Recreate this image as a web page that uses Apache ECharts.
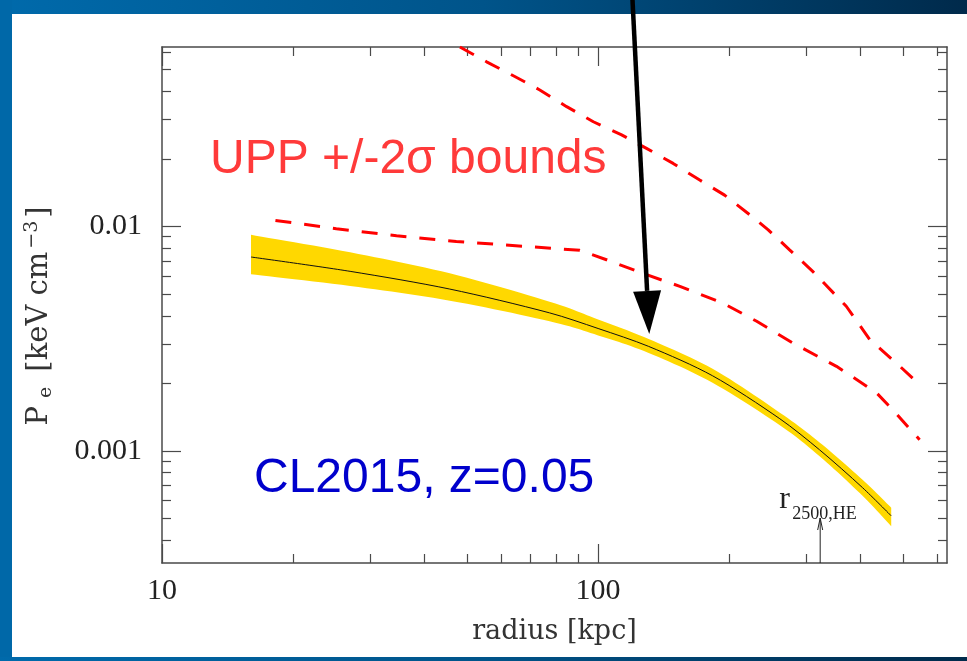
<!DOCTYPE html>
<html><head><meta charset="utf-8">
<script src="https://cdn.jsdelivr.net/npm/echarts@6/dist/echarts.min.js"></script>
<style>html,body{margin:0;padding:0;background:#fff;}#c{width:967px;height:661px;}</style>
</head><body><div id="c"></div>
<script>
// ---- data ----
const radiusBand    = [16, 27, 45.7, 77.4, 100, 130.6, 183, 261, 322, 404, 470];
const pressureModel = [0.00731, 0.00631, 0.00526, 0.00412, 0.00351, 0.00292, 0.00216, 0.00139, 0.00101, 0.000685, 0.000513];
const bandUpper     = [0.00918, 0.00767, 0.00618, 0.00462, 0.00385, 0.00315, 0.00232, 0.00148, 0.00109, 0.000743, 0.000558];
const bandLower     = [0.00612, 0.00543, 0.00467, 0.00378, 0.00327, 0.00273, 0.00201, 0.00130, 0.000946, 0.000630, 0.000461];

const radiusUppHigh = [48.2, 55.5, 64.4, 73.5, 84.7, 97.5, 113.2, 129.1, 148.6, 171, 195, 222.8, 245.5, 274.8, 310.5, 370.7, 419.8, 492, 550.8];
const uppHigh       = [0.0631, 0.0542, 0.0466, 0.0406, 0.0342, 0.0293, 0.0256, 0.0223, 0.0191, 0.0161, 0.0138, 0.01127, 0.00966, 0.00787, 0.00631, 0.00441, 0.00313, 0.00238, 0.00194];

const radiusUppLow  = [18.2, 25.1, 34.5, 47.3, 60.5, 90.8, 104.5, 129, 154, 193, 231, 279, 352, 434, 473, 546];
const uppLow        = [0.01064, 0.00977, 0.00909, 0.00857, 0.00829, 0.00783, 0.00711, 0.00610, 0.00541, 0.00456, 0.00378, 0.00303, 0.00238, 0.00182, 0.00153, 0.00112];

const xMajorTicks = [10, 100];
const xTickLabels = ['10', '100'];
const xMinorTicks = [20, 30, 40, 50, 60, 70, 80, 90, 200, 300, 400, 500, 600];
const yMajorTicks = [0.001, 0.01];
const yTickLabels = ['0.001', '0.01'];
const yMinorTicks = [0.0004, 0.0005, 0.0006, 0.0007, 0.0008, 0.0009, 0.002, 0.003, 0.004, 0.005, 0.006, 0.007, 0.008, 0.009, 0.02, 0.03, 0.04, 0.05, 0.06];
const xMin = 10, xMax = Math.pow(10, 2.8);
const yMin = Math.pow(10, -3.5), yMax = Math.pow(10, -1.2);
const r2500 = 323;
const arrowTip = [131, 0.00332];

// ---- chart ----
const serif = '"Liberation Serif", "DejaVu Serif", serif';
const titleSerif = '"DejaVu Serif", serif';
const sans = '"Liberation Sans", Arial, sans-serif';
const lineCol = '#4a4a4a';
const chart = echarts.init(document.getElementById('c'));

function pick(v, vals, labels) {
  let best = 0, d = Infinity;
  vals.forEach((t, i) => { const dd = Math.abs(Math.log10(t) - Math.log10(v)); if (dd < d) { d = dd; best = i; } });
  return labels[best];
}
// Catmull-Rom smoothing of a pixel polyline (rendering only)
function smoothPts(pts) {
  const out = [pts[0]];
  for (let i = 0; i < pts.length - 1; i++) {
    const p0 = pts[i - 1] || pts[i], p1 = pts[i], p2 = pts[i + 1], p3 = pts[i + 2] || pts[i + 1];
    for (let k = 1; k <= 12; k++) {
      const t = k / 12, t2 = t * t, t3 = t2 * t;
      const f = (a, b, c, d) => 0.5 * ((2 * b) + (-a + c) * t + (2 * a - 5 * b + 4 * c - d) * t2 + (-a + 3 * b - 3 * c + d) * t3);
      out.push([f(p0[0], p1[0], p2[0], p3[0]), f(p0[1], p1[1], p2[1], p3[1])]);
    }
  }
  return out;
}
const gridBox = {left: 162, top: 47, right: 20, bottom: 98, containLabel: false};
function xAx(grid, pos, ticks, len, showLine, label) {
  return {
    type: 'log', logBase: 10, min: xMin, max: xMax, gridIndex: grid, position: pos,
    axisLine: {show: showLine, onZero: false, lineStyle: {color: lineCol, width: 1.5}},
    axisTick: {show: true, inside: true, length: len, customValues: ticks, lineStyle: {color: lineCol, width: 1.2}},
    axisLabel: label ? {show: true, customValues: xMajorTicks, formatter: v => pick(v, xMajorTicks, xTickLabels),
      margin: 13, color: '#222', fontFamily: serif, fontSize: 30} : {show: false},
    splitLine: {show: false}, minorTick: {show: false}, minorSplitLine: {show: false},
    name: label ? 'radius [kpc]' : '', nameLocation: 'middle', nameGap: 55,
    nameTextStyle: {fontFamily: titleSerif, fontSize: 27, color: '#333'}
  };
}
function yAx(grid, pos, ticks, len, showLine, label) {
  return {
    type: 'log', logBase: 10, min: yMin, max: yMax, gridIndex: grid, position: pos,
    axisLine: {show: showLine, onZero: false, lineStyle: {color: lineCol, width: 1.5}},
    axisTick: {show: true, inside: true, length: len, customValues: ticks, lineStyle: {color: lineCol, width: 1.2}},
    axisLabel: label ? {show: true, customValues: yMajorTicks, formatter: v => pick(v, yMajorTicks, yTickLabels),
      margin: 20, color: '#222', fontFamily: serif, fontSize: 30} : {show: false},
    splitLine: {show: false}, minorTick: {show: false}, minorSplitLine: {show: false},
    name: label ? '{a|P}{b|e}{a| [keV cm}{c|\u22123}{a|]}' : '', nameLocation: 'middle', nameGap: 106,
    nameTextStyle: {padding: [0, 22, 0, 0], rich: {
      a: {fontFamily: titleSerif, fontSize: 29, color: '#333'},
      b: {fontFamily: titleSerif, fontSize: 19, color: '#333', padding: [14, 6, 0, 8]},
      c: {fontFamily: titleSerif, fontSize: 19, color: '#333', padding: [0, 3, 14, 3]}
    }}
  };
}

const option = {
  animation: false,
  backgroundColor: '#fff',
  grid: [gridBox, gridBox, gridBox, gridBox],
  xAxis: [
    xAx(0, 'bottom', xMajorTicks, 19, true, true),
    xAx(1, 'bottom', xMinorTicks, 9, false, false),
    xAx(2, 'top', xMajorTicks, 19, true, false),
    xAx(3, 'top', xMinorTicks, 9, false, false)
  ],
  yAxis: [
    yAx(0, 'left', yMajorTicks, 19, true, true),
    yAx(1, 'left', yMinorTicks, 9, false, false),
    yAx(2, 'right', yMajorTicks, 19, true, false),
    yAx(3, 'right', yMinorTicks, 9, false, false)
  ],
  series: [
    {
      type: 'custom', xAxisIndex: 0, yAxisIndex: 0, z: 2,
      data: radiusBand.map((r, i) => [r, bandUpper[i], bandLower[i]]),
      encode: {x: 0, y: [1, 2]},
      renderItem: function (params, api) {
        if (params.dataIndex !== 0) return null;
        const up = radiusBand.map((r, i) => api.coord([r, bandUpper[i]]));
        const lo = radiusBand.map((r, i) => api.coord([r, bandLower[i]]));
        const pts = smoothPts(up).concat(smoothPts(lo).reverse());
        return {type: 'polygon', shape: {points: pts}, style: {fill: '#FFD800', stroke: null}};
      },
      silent: true
    },
    {
      type: 'line', xAxisIndex: 0, yAxisIndex: 0, z: 3, showSymbol: false, smooth: 0.3,
      data: radiusBand.map((r, i) => [r, pressureModel[i]]),
      lineStyle: {color: '#111', width: 1}
    },
    {
      type: 'line', xAxisIndex: 0, yAxisIndex: 0, z: 4, showSymbol: false, clip: true,
      data: radiusUppHigh.map((r, i) => [r, uppHigh[i]]),
      lineStyle: {color: '#f00', width: 3, type: [16, 13]}
    },
    {
      type: 'line', xAxisIndex: 0, yAxisIndex: 0, z: 4, showSymbol: false, clip: true,
      data: radiusUppLow.map((r, i) => [r, uppLow[i]]),
      lineStyle: {color: '#f00', width: 3, type: [16, 13]}
    }
  ]
};
chart.setOption(option);

// ---- annotations ----
const px = (d) => chart.convertToPixel({xAxisIndex: 0, yAxisIndex: 0}, d);
const tip = px(arrowTip);
const start = [632.5, 0];
const dx = tip[0] - start[0], dy = tip[1] - start[1];
const L = Math.sqrt(dx * dx + dy * dy), ux = dx / L, uy = dy / L;
const headLen = 43, headHalf = 14;
const base = [tip[0] - ux * headLen, tip[1] - uy * headLen];
const rx = px([r2500, yMin]);
const mkGrad = () => new echarts.graphic.LinearGradient(0, 0, 1, 0, [
  {offset: 0, color: '#006aab'}, {offset: 0.5, color: '#00548a'}, {offset: 1, color: '#002a4b'}]);

chart.setOption({
  graphic: [
    {type: 'rect', z: -10, shape: {x: 0, y: 0, width: 967, height: 14}, style: {fill: mkGrad()}, silent: true},
    {type: 'rect', z: -10, shape: {x: 0, y: 0, width: 12, height: 661}, style: {fill: '#0068a8'}, silent: true},
    {type: 'rect', z: -10, shape: {x: 0, y: 657, width: 967, height: 4}, style: {fill: mkGrad()}, silent: true},
    {type: 'text', z: 50, style: {text: 'UPP +/-2\u03c3 bounds', x: 210, y: 160, font: '48px ' + sans, fill: '#ff3a3a', verticalAlign: 'middle', align: 'left'}},
    {type: 'text', z: 50, style: {text: 'CL2015, z=0.05', x: 254, y: 479, font: '48px ' + sans, fill: '#0000cc', verticalAlign: 'middle', align: 'left'}},
    {type: 'line', z: 60, shape: {x1: start[0], y1: start[1], x2: base[0], y2: base[1]}, style: {stroke: '#000', lineWidth: 4.5}},
    {type: 'polygon', z: 60, shape: {points: [tip, [base[0] - uy * headHalf, base[1] + ux * headHalf], [base[0] + uy * headHalf, base[1] - ux * headHalf]]}, style: {fill: '#000'}},
    {type: 'line', z: 60, shape: {x1: rx[0], y1: rx[1], x2: rx[0], y2: rx[1] - 45}, style: {stroke: '#222', lineWidth: 1}},
    {type: 'polyline', z: 60, shape: {points: [[rx[0] - 2.5, rx[1] - 33], [rx[0], rx[1] - 45], [rx[0] + 2.5, rx[1] - 33]]}, style: {stroke: '#222', lineWidth: 1, fill: null}},
    {type: 'text', z: 60, style: {text: 'r', x: rx[0] - 41, y: rx[1] - 63, font: '32px ' + serif, fill: '#222', verticalAlign: 'middle', align: 'left'}},
    {type: 'text', z: 60, style: {text: '2500,HE', x: rx[0] - 28, y: rx[1] - 49, font: '18px ' + serif, fill: '#222', verticalAlign: 'middle', align: 'left'}}
  ]
});
</script>
</body></html>
